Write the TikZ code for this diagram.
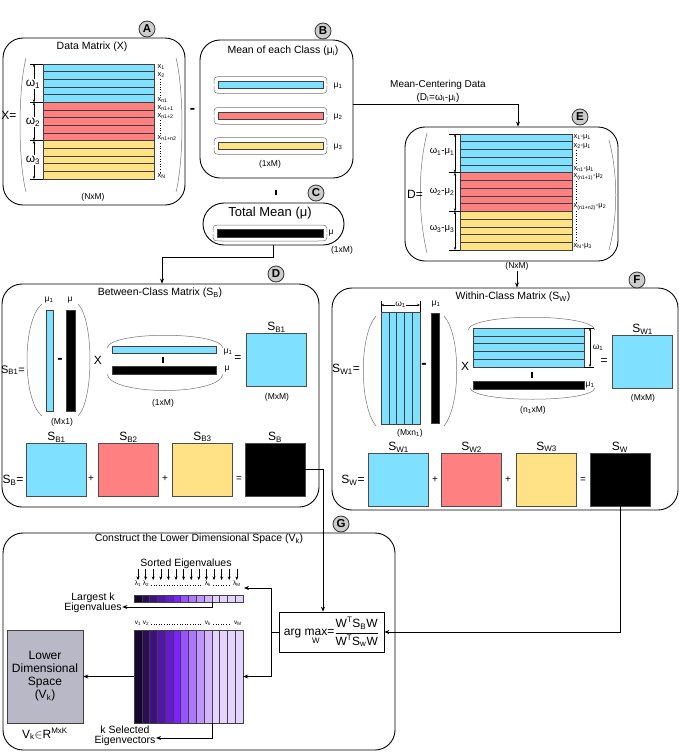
\documentclass[tikz,border=0pt]{standalone}
\usepackage{amsmath,amssymb}
\usepackage{xcolor}
\usepackage{fontspec}
\setmainfont{Liberation Sans}
\usetikzlibrary{arrows.meta,positioning}

\definecolor{clsblue}{HTML}{80E0FF}
\definecolor{clsred}{HTML}{FF8080}
\definecolor{clsyel}{HTML}{FFE285}
\definecolor{eigp}{HTML}{7B22FF}
\definecolor{lowgray}{HTML}{B8B8C6}
\newcommand{\eigcols}{0/eigp!18!black,1/eigp!34!black,2/eigp!50!black,3/eigp!66!black,4/eigp!82!black,5/eigp,6/eigp!78!white,7/eigp!62!white,8/eigp!48!white,9/eigp!34!white,10/eigp!20!white,11/eigp!20!white,12/eigp!20!white,13/eigp!20!white}

\begin{document}
\begin{tikzpicture}[x=1pt, y=-1pt,
  panel/.style={draw, rounded corners=20pt, line width=0.9pt, inner sep=0pt},
  badge/.style={draw=black!80, circle, fill=gray!40, line width=0.8pt, inner sep=0pt, minimum size=16pt, font=\bfseries\fontsize{11.5}{11.5}\selectfont},
  ttl/.style={font=\fontsize{10.5}{11.5}\selectfont, inner sep=0.5pt},
  sml/.style={font=\fontsize{8.5}{9}\selectfont, inner sep=0.5pt},
  wee/.style={font=\fontsize{7.5}{8}\selectfont, inner sep=0.3pt},
  eiglbl/.style={font=\fontsize{6.5}{7}\selectfont, inner sep=0.2pt},
  bigtxt/.style={font=\fontsize{12}{13}\selectfont, inner sep=0.5pt},
  optxt/.style={font=\fontsize{10}{11}\selectfont, inner sep=0.5pt},
  minustxt/.style={font=\bfseries\fontsize{16}{16}\selectfont, inner sep=0.5pt},
  cell/.style={draw=black!75, line width=0.5pt},
  brk/.style={black!55, line width=0.5pt},
  arr/.style={-{Stealth[length=5pt,width=4pt]}, line width=0.7pt},
  dimarr/.style={{Stealth[length=3pt,width=2.4pt]}-{Stealth[length=3pt,width=2.4pt]}, line width=0.5pt},
  tk/.style={line width=0.5pt},
  sq/.style={draw=black!70, line width=0.5pt, minimum width=60pt, minimum height=53pt, inner sep=0pt},
  opmark/.style={line width=1.4pt},
  dots/.style={dotted, line width=0.6pt},
]
\useasboundingbox (0,0) rectangle (679,755);

% A: data matrix
\node[panel, minimum width=182pt, minimum height=167pt] (A) at (94,121.5) {};
\node[badge] (bA) at (147,29) {A};
\node[ttl] (tA) at (92,47) {Data Matrix (X)};
\foreach \c [count=\k from 0] in {clsblue,clsred,clsyel}
  \foreach \r in {0,...,4}
    \draw[cell, fill=\c] (43,{64+(5*\k+\r)*7.667}) rectangle (154,{64+(5*\k+\r+1)*7.667});
\foreach \y in {64,102.3,140.7,179} \draw[tk] (30,\y) -- (43,\y);
\draw[dimarr] (34,64) -- (34,102.3);
\draw[dimarr] (34,102.3) -- (34,140.7);
\draw[dimarr] (34,140.7) -- (34,179);
\node[bigtxt, fill=white] (wA1) at (33,84) {ω\textsubscript{1}};
\node[bigtxt, fill=white] (wA2) at (33,122) {ω\textsubscript{2}};
\node[bigtxt, fill=white] (wA3) at (33,160) {ω\textsubscript{3}};
\node[wee, anchor=west] (xa1) at (157,67) {x\textsubscript{1}};
\node[wee, anchor=west] (xa2) at (157,75) {x\textsubscript{2}};
\node[wee, anchor=west] (xa3) at (157,100) {x\textsubscript{n1}};
\node[wee, anchor=west] (xa4) at (157,108) {x\textsubscript{n1+1}};
\node[wee, anchor=west] (xa5) at (157,116) {x\textsubscript{n1+2}};
\node[wee, anchor=west] (xa6) at (157,138) {x\textsubscript{n1+n2}};
\node[wee, anchor=west] (xa7) at (157,176) {x\textsubscript{N}};
\draw[dots] (160,79) -- (160,96);
\draw[dots] (160,120) -- (160,134);
\draw[dots] (160,143) -- (160,172);
\draw[brk] (26,58) .. controls (18,90) and (18,160) .. (26,192);
\draw[brk] (176,58) .. controls (184,90) and (184,160) .. (176,192);
\node[bigtxt] (eqA) at (9,115) {X=};
\node[sml] (szA) at (93,197) {(NxM)};
\node[minustxt] (mAB) at (192.5,111) {-};

% B: class means
\node[panel, minimum width=153pt, minimum height=138pt] (B) at (276.5,109) {};
\node[badge] (bB) at (323,31) {B};
\node[ttl] (tB) at (283,51) {Mean of each Class (μ\textsubscript{i})};
\foreach \c/\y/\k in {clsblue/85/1,clsred/115.8/2,clsyel/146/3} {
  \draw[cell, fill=\c] (218,{\y-3.5}) rectangle (323,{\y+3.5});
  \draw[brk] (214,{\y-1}) .. controls (214,{\y-8.5}) .. (224,{\y-8.5}) -- (317,{\y-8.5}) .. controls (327,{\y-8.5}) .. (327,{\y-1});
  \draw[brk] (214,{\y+1}) .. controls (214,{\y+8.5}) .. (224,{\y+8.5}) -- (317,{\y+8.5}) .. controls (327,{\y+8.5}) .. (327,{\y+1});
  \node[sml] at (338,{\y+1}) {μ\textsubscript{\k}};
}
\node[sml] (szB) at (270,164) {(1xM)};
\draw[opmark] (276,189.5) -- (276,195);

% C: total mean
\node[panel, rounded corners=21pt, minimum width=141pt, minimum height=42pt] (C) at (273.5,224) {};
\node[badge] (bC) at (316,193) {C};
\node[font=\fontsize{13}{14}\selectfont, inner sep=0.5pt] (tC) at (270,213) {Total Mean (μ)};
\draw[cell, fill=black] (217,229) rectangle (323,237);
\draw[brk] (213,232) .. controls (213,225) .. (223,225) -- (317,225) .. controls (327,225) .. (327,232);
\draw[brk] (213,234) .. controls (213,241) .. (223,241) -- (317,241) .. controls (327,241) .. (327,234);
\node[sml] (muC) at (331,233) {μ};
\node[sml] (szC) at (342,250) {(1xM)};

% E: mean-centred data
\node[panel, minimum width=213pt, minimum height=134pt] (E) at (511.5,194) {};
\node[badge] (bE) at (580,117) {E};
\node[ttl, font=\fontsize{10}{13}\selectfont, align=center] (mc) at (438,91) {Mean-Centering Data\\(D\textsubscript{i}=ω\textsubscript{i}-μ\textsubscript{i})};
\draw[arr] ([yshift=5pt]B.east) -| ([xshift=6.5pt]E.north);
\foreach \c [count=\k from 0] in {clsblue,clsred,clsyel}
  \foreach \r in {0,...,4}
    \draw[cell, fill=\c] (460,{134+(5*\k+\r)*7.733}) rectangle (572,{134+(5*\k+\r+1)*7.733});
\foreach \y in {134,172.7,211.3,250} \draw[tk] (449,\y) -- (460,\y);
\draw[dimarr] (455,134) -- (455,172.7);
\draw[dimarr] (455,172.7) -- (455,211.3);
\draw[dimarr] (455,211.3) -- (455,250);
\node[sml, font=\fontsize{9.5}{10}\selectfont] (wE1) at (442,152) {ω\textsubscript{1}-μ\textsubscript{1}};
\node[sml, font=\fontsize{9.5}{10}\selectfont] (wE2) at (442,192) {ω\textsubscript{2}-μ\textsubscript{2}};
\node[sml, font=\fontsize{9.5}{10}\selectfont] (wE3) at (442,229) {ω\textsubscript{3}-μ\textsubscript{3}};
\node[wee, anchor=west] (xe1) at (573,137) {x\textsubscript{1}-μ\textsubscript{1}};
\node[wee, anchor=west] (xe2) at (573,146) {x\textsubscript{2}-μ\textsubscript{1}};
\node[wee, anchor=west] (xe3) at (573,169) {x\textsubscript{n1}-μ\textsubscript{1}};
\node[wee, anchor=west] (xe4) at (573,177) {x\textsubscript{(n1+1)}-μ\textsubscript{2}};
\node[wee, anchor=west] (xe5) at (573,207) {x\textsubscript{(n1+n2)}-μ\textsubscript{2}};
\node[wee, anchor=west] (xe6) at (573,246) {x\textsubscript{N}-μ\textsubscript{3}};
\draw[dots] (576,150) -- (576,165);
\draw[dots] (576,181) -- (576,203);
\draw[dots] (576,211) -- (576,242);
\draw[brk] (427,133) .. controls (418,170) and (418,215) .. (427,253);
\draw[brk] (609,140) .. controls (618,175) and (618,215) .. (609,250);
\node[bigtxt] (eqE) at (415,194) {D=};
\node[sml] (szE) at (517,266) {(NxM)};

% D: between-class matrix
\node[panel, minimum width=317pt, minimum height=223pt] (D) at (160.5,395.5) {};
\node[badge] (bD) at (276,274) {D};
\draw[arr] (C.south) -- ++(0,12) -| ([xshift=1.5pt]D.north);
\node[ttl] (tD) at (160,293) {Between-Class Matrix (S\textsubscript{B})};
\node[sml] (muD1) at (49,300) {μ\textsubscript{1}};
\node[sml] (muD) at (70,300) {μ};
\draw[cell, fill=clsblue] (46,310) rectangle (53,411);
\draw[cell, fill=black] (66,310) rectangle (75,411);
\node[minustxt] (mD) at (60,361) {-};
\draw[brk] (42,304) .. controls (22,320) and (22,400) .. (42,416);
\draw[brk] (78,304) .. controls (94,320) and (94,400) .. (78,416);
\node[font=\fontsize{11}{12}\selectfont, inner sep=0.5pt] (eqD1) at (13,370) {S\textsubscript{B1}=};
\node[bigtxt] (xD) at (98,360) {X};
\draw[cell, fill=clsblue] (112,346) rectangle (216,353);
\draw[cell, fill=black] (112,366) rectangle (216,374);
\draw[opmark] (163,357) -- (163,362.5);
\draw[brk] (107,348) .. controls (110,331) and (220,331) .. (223,348);
\draw[brk] (107,374) .. controls (110,396) and (220,396) .. (223,374);
\node[sml] (muD2) at (228,352) {μ\textsubscript{1}};
\node[sml] (muD3) at (227,369) {μ};
\node[bigtxt] (eqD2) at (238,359) {=};
\node[sq, fill=clsblue, label={[bigtxt]above:S\textsubscript{B1}}] (sbt) at (276.5,360) {};
\node[sml] (szD1) at (277,397) {(MxM)};
\node[sml] (szD2) at (163,403) {(1xM)};
\node[sml] (szD3) at (62,422) {(Mx1)};
\node[sq, fill=clsblue, label={[bigtxt]above:S\textsubscript{B1}}] (sb1) at (56.5,469.5) {};
\node[sq, fill=clsred, label={[bigtxt]above:S\textsubscript{B2}}] (sb2) at (128.5,469.5) {};
\node[sq, fill=clsyel, label={[bigtxt]above:S\textsubscript{B3}}] (sb3) at (202.5,469.5) {};
\node[sq, fill=black, label={[bigtxt]above:S\textsubscript{B}}] (sb) at (275,469.5) {};
\node[bigtxt] (eqD3) at (13,480) {S\textsubscript{B}=};
\node[optxt] (pD1) at (91,479) {+};
\node[optxt] (pD2) at (165,479) {+};
\node[optxt] (pD3) at (239,479) {=};

% F: within-class matrix
\node[panel, minimum width=346pt, minimum height=222pt] (F) at (505,399) {};
\node[badge] (bF) at (637,280) {F};
\draw[arr] (szE.south) -- (szE.south |- F.north);
\node[ttl] (tF) at (513,297) {Within-Class Matrix (S\textsubscript{W})};
\foreach \i in {0,...,4}
  \draw[cell, fill=clsblue] ({381+\i*7.8},312) rectangle ({381+(\i+1)*7.8},424);
\draw[tk] (381,301) -- (381,312);
\draw[tk] (420,301) -- (420,312);
\draw[dimarr] (381,305) -- (420,305);
\node[sml, fill=white] (wF1) at (400.5,305) {ω\textsubscript{1}};
\draw[cell, fill=black] (431,313) rectangle (439,423);
\node[sml] (muF1) at (436,304) {μ\textsubscript{1}};
\node[minustxt] (mF) at (424,366) {-};
\draw[brk] (376,316) .. controls (359,335) and (359,405) .. (376,426);
\draw[brk] (444,316) .. controls (461,335) and (461,405) .. (444,426);
\node[bigtxt] (eqF1) at (346,369) {S\textsubscript{W1}=};
\node[bigtxt] (xF) at (465,366) {X};
\foreach \i in {0,...,4}
  \draw[cell, fill=clsblue] (473,{328+\i*7.8}) rectangle (584,{328+(\i+1)*7.8});
\draw[tk] (584,328) -- (594,328);
\draw[tk] (584,367) -- (594,367);
\draw[dimarr] (590,328) -- (590,367);
\node[sml] (wF2) at (598,348) {ω\textsubscript{1}};
\draw[opmark] (532,372) -- (532,377.5);
\draw[cell, fill=black] (473,381) rectangle (584,389);
\node[sml, anchor=west] (muF2) at (585,385) {μ\textsubscript{1}};
\draw[brk] (468,330) .. controls (471,313) and (592,313) .. (595,330);
\draw[brk] (470,388) .. controls (473,403) and (592,403) .. (595,388);
\node[sml] (szF1) at (533,410) {(n\textsubscript{1}xM)};
\node[bigtxt] (eqF2) at (604,362) {=};
\node[sq, fill=clsblue, label={[bigtxt]above:S\textsubscript{W1}}] (swt) at (642.5,361.5) {};
\node[sml] (szF2) at (643,398) {(MxM)};
\node[sml] (szF3) at (410,433) {(Mxn\textsubscript{1})};
\node[sq, fill=clsblue, label={[bigtxt]above:S\textsubscript{W1}}] (sw1) at (398.5,479.5) {};
\node[sq, fill=clsred, label={[bigtxt]above:S\textsubscript{W2}}] (sw2) at (471.5,479.5) {};
\node[sq, fill=clsyel, label={[bigtxt]above:S\textsubscript{W3}}] (sw3) at (546.5,479.5) {};
\node[sq, fill=black, label={[bigtxt]above:S\textsubscript{W}}] (sw) at (620,479.5) {};
\node[bigtxt] (eqF3) at (353,480) {S\textsubscript{W}=};
\node[optxt] (pF1) at (435,480) {+};
\node[optxt] (pF2) at (508,480) {+};
\node[optxt] (pF3) at (583,480) {=};

% G: lower dimensional space
\node[panel, minimum width=392pt, minimum height=217pt] (G) at (199,641.5) {};
\node[badge] (bG) at (341,524) {G};
\node[ttl] (tG) at (199,539) {Construct the Lower Dimensional Space (V\textsubscript{k})};
\node[ttl] (tS) at (186,564) {Sorted Eigenvalues};
\foreach \i in {0,...,13}
  \draw[-{Stealth[length=3.5pt,width=3pt]}, line width=0.5pt] ({138+\i*7.6},569) -- ({138+\i*7.6},580);
\node[eiglbl] (l1) at (138,584) {λ\textsubscript{1}};
\node[eiglbl] (l2) at (146,584) {λ\textsubscript{2}};
\node[eiglbl] (lk) at (208,584) {λ\textsubscript{k}};
\node[eiglbl] (lM) at (237,584) {λ\textsubscript{M}};
\draw[dots] (151,585) -- (203,585);
\draw[dots] (213,585) -- (231,585);
\node[eiglbl] (v1) at (138,623) {v\textsubscript{1}};
\node[eiglbl] (v2) at (146,623) {v\textsubscript{2}};
\node[eiglbl] (vk) at (208,623) {v\textsubscript{k}};
\node[eiglbl] (vM) at (238,623) {v\textsubscript{M}};
\draw[dots] (151,624) -- (203,624);
\draw[dots] (213,624) -- (231,624);
\foreach \i/\c in \eigcols {
  \draw[cell, fill=\c] ({134+\i*7.786},595) rectangle ({134+(\i+1)*7.786},602);
  \draw[cell, fill=\c] ({134+\i*7.786},630) rectangle ({134+(\i+1)*7.786},723);
}
\node[inner sep=0pt, minimum width=109pt, minimum height=93pt] (evec) at (188.5,676.5) {};
\coordinate (evin) at (244,588);
\coordinate (kv) at (212,602);
\coordinate (kvec) at (212,723);
\node[ttl, align=center, font=\fontsize{10.5}{10}\selectfont] (lkv) at (93,603) {Largest k\\Eigenvalues};
\draw[arr] (kv) |- ([yshift=-4pt]lkv.east);
\node[ttl, align=center, font=\fontsize{10.5}{10}\selectfont] (ksv) at (125,736) {k Selected\\Eigenvectors};
\draw[arr] (kvec) |- ([yshift=-2pt]ksv.east);
\node[draw=black!75, fill=lowgray, line width=0.6pt, minimum width=76pt, minimum height=93pt, inner sep=0pt, align=center, font=\fontsize{12}{13}\selectfont] (ld) at (45,676.5) {Lower\\Dimensional\\Space\\(V\textsubscript{k})};
\node[bigtxt] (vin) at (45,734) {V\textsubscript{k}$\in$R\textsuperscript{MxK}};
\draw[arr] (evec.west) -- (ld.east);
\node[draw, line width=0.7pt, minimum width=105pt, minimum height=40pt, inner sep=1pt, font=\fontsize{12}{13}\selectfont] (am) at (331.5,632) {$\text{arg }\underset{\text{W}}{\text{max}}\text{=}\dfrac{\text{W}^{\text{T}}\text{S}_{\text{B}}\text{W}}{\text{W}^{\text{T}}\text{S}_{\text{w}}\text{W}}$};
\draw[line width=0.7pt] (am.west) -- ++(-7,0) coordinate (amsplit);
\draw[arr] (amsplit) |- (evin);
\draw[arr] (amsplit) |- (evec.east);
\draw[arr] (sb.east) -| ([xshift=-8.5pt]am.north);
\draw[arr] (sw.south) |- (am.east);
\end{tikzpicture}
\end{document}
